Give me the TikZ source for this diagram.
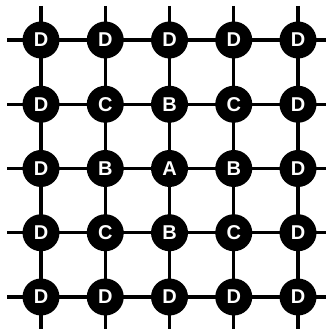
\documentclass[tikz,border=0pt]{standalone}
\usepackage{fontspec}
\setmainfont{Liberation Sans}
\begin{document}
\begin{tikzpicture}[x=1pt,y=1pt,
  cell/.style={circle,fill=black,minimum size=37pt,inner sep=0pt,text=white,font=\bfseries\fontsize{20}{20}\selectfont},
  gridline/.style={line width=3.2pt,black}]
\useasboundingbox (0,0) rectangle (326,329);
% extension coordinates
\foreach \i in {0,...,4}{
  \pgfmathsetmacro{\xx}{41+64.25*\i}
  \pgfmathsetmacro{\yy}{329-40-64.25*\i}
  \coordinate (top\i) at (\xx,323);
  \coordinate (bot\i) at (\xx,-4);
  \coordinate (lft\i) at (7,\yy);
  \coordinate (rgt\i) at (332,\yy);
}
\foreach \i in {0,...,4}{
  \draw[gridline] (top\i) -- (bot\i);
  \draw[gridline] (lft\i) -- (rgt\i);
}
\foreach \r/\row in {0/{D,D,D,D,D},1/{D,C,B,C,D},2/{D,B,A,B,D},3/{D,C,B,C,D},4/{D,D,D,D,D}}{
  \foreach \l [count=\c from 0] in \row{
    \pgfmathsetmacro{\xx}{41+64.25*\c}
    \pgfmathsetmacro{\yy}{329-40-64.25*\r}
    \node[cell] (n\r\c) at (\xx,\yy) {\l};
  }
}
\end{tikzpicture}
\end{document}
